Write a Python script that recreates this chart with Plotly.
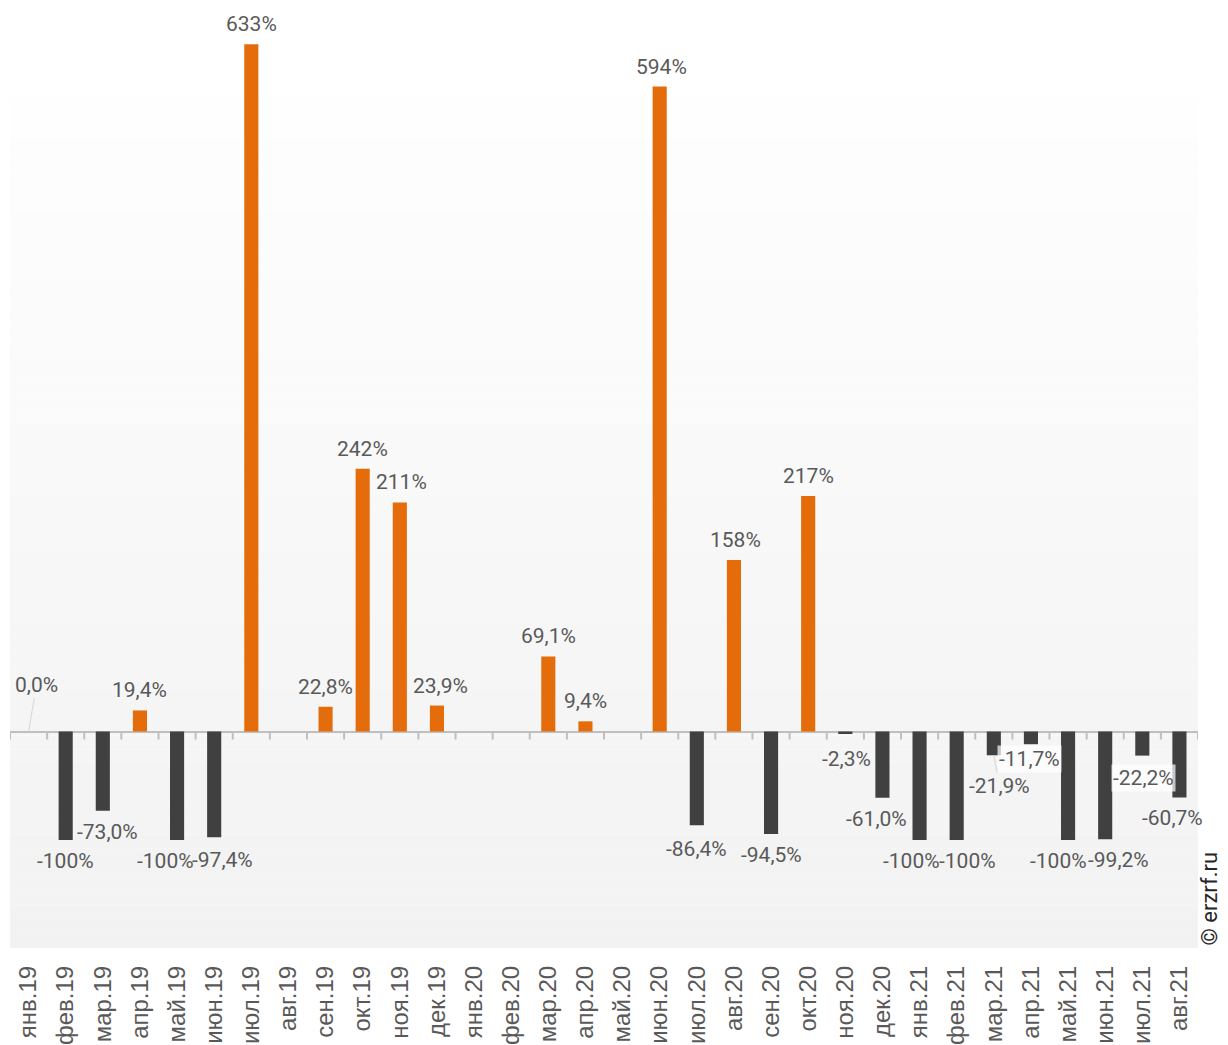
import plotly.graph_objects as go

months = [
    "янв.19", "фев.19", "мар.19", "апр.19", "май.19", "июн.19", "июл.19", "авг.19",
    "сен.19", "окт.19", "ноя.19", "дек.19", "янв.20", "фев.20", "мар.20", "апр.20",
    "май.20", "июн.20", "июл.20", "авг.20", "сен.20", "окт.20", "ноя.20", "дек.20",
    "янв.21", "фев.21", "мар.21", "апр.21", "май.21", "июн.21", "июл.21", "авг.21",
]
change_pct = [
    0.0, -100, -73.0, 19.4, -100, -97.4, 633, None,
    22.8, 242, 211, 23.9, None, None, 69.1, 9.4,
    None, 594, -86.4, 158, -94.5, 217, -2.3, -61.0,
    -100, -100, -21.9, -11.7, -100, -99.2, -22.2, -60.7,
]

_ORANGE = "#E46C0A"
_DARK = "#404040"
_TEXT = "#595959"
_AXIS = "#bfbfbf"

# label nudges (dx, yshift) where the default placement would collide
label_nudge = {
    "мар.19": (5, -21), "май.19": (-12, None), "июн.19": (8, -23),
    "ноя.19": (2, None), "дек.19": (4, None), "июн.20": (2, None),
    "авг.20": (2, None), "июл.20": (0, -24), "ноя.20": (1, -25),
    "дек.20": (-6, None), "янв.21": (-8, None), "фев.21": (11, None),
    "апр.21": (-1, -15), "май.21": (-10, None), "июн.21": (13, None),
    "июл.21": (1, -22), "авг.21": (-7, None),
}
boxed = {"апр.21", "июл.21"}


def fmt(v):
    if abs(v) >= 100:
        return f"{v:.0f}%"
    return f"{v:.1f}%".replace(".", ",")


colors = [_ORANGE if (v is not None and v > 0) else _DARK for v in change_pct]

fig = go.Figure(
    go.Bar(
        x=months,
        y=change_pct,
        marker=dict(color=colors, line=dict(width=0)),
        width=0.38,
        hoverinfo="x+y",
    )
)

# soft vertical gradient behind the plot
n_steps = 60
top, bottom = 0.9045, 0.0
for i in range(n_steps):
    t = i / (n_steps - 1)
    c = round(254 - (254 - 242) * (1 - t))
    y0 = bottom + (top - bottom) * i / n_steps
    y1 = bottom + (top - bottom) * (i + 1) / n_steps
    fig.add_shape(
        type="rect", xref="paper", yref="paper", x0=0, x1=1, y0=y0, y1=y1,
        fillcolor=f"rgb({c},{c},{c})", line=dict(width=0), layer="below",
    )

# category boundary ticks on the zero line
for i in range(len(months) + 1):
    fig.add_shape(
        type="line", xref="x", yref="y", x0=i - 0.5, x1=i - 0.5,
        ysizemode="pixel", yanchor=0, y0=0, y1=-8,
        line=dict(color=_AXIS, width=2),
    )

annotations = []
for m, v in zip(months, change_pct):
    if v is None:
        continue
    dx, dy = label_nudge.get(m, (0, None))
    if dy is None:
        dy = 20 if v >= 0 else -21
    ann = dict(
        x=m, y=v, text=fmt(v), showarrow=False, xshift=dx, yshift=dy,
        font=dict(family="Roboto, sans-serif", size=21, color=_TEXT),
    )
    if m in boxed:
        ann["bgcolor"] = "rgba(255,255,255,0.7)"
    annotations.append(ann)

# leader-line labels
for a in annotations:
    if a["x"] == "янв.19":
        a.update(showarrow=True, xshift=0, yshift=0, ax=8, ay=-47,
                 arrowhead=0, arrowwidth=1.2, arrowcolor="#d9d9d9")
    if a["x"] == "мар.21":
        a.update(showarrow=True, xshift=0, yshift=0, ax=6, ay=31,
                 arrowhead=0, arrowwidth=1.2, arrowcolor="#d9d9d9")

annotations.append(
    dict(
        text="© erzrf.ru", xref="paper", yref="paper", x=1.0095, y=0.052,
        xanchor="center", yanchor="middle",
        textangle=-90, showarrow=False,
        font=dict(family="Roboto, sans-serif", size=22, color="#262626"),
    )
)

fig.update_layout(
    width=1220,
    height=1037,
    margin=dict(l=2, r=30, t=0, b=95),
    paper_bgcolor="white",
    plot_bgcolor="white",
    showlegend=False,
    bargap=0.62,
    annotations=annotations,
    xaxis=dict(
        type="category",
        categoryarray=months,
        range=[-0.5, len(months) - 0.5],
        tickangle=-90,
        tickfont=dict(family="Liberation Sans, Arial, sans-serif", size=24, color=_TEXT),
        ticklabelstandoff=12,
        showgrid=False,
        showline=False,
        ticks="",
    ),
    yaxis=dict(
        range=[-199.4, 666.4],
        showgrid=False,
        showticklabels=False,
        zeroline=True,
        zerolinecolor=_AXIS,
        zerolinewidth=2,
    ),
)

fig.write_html("out.html")
